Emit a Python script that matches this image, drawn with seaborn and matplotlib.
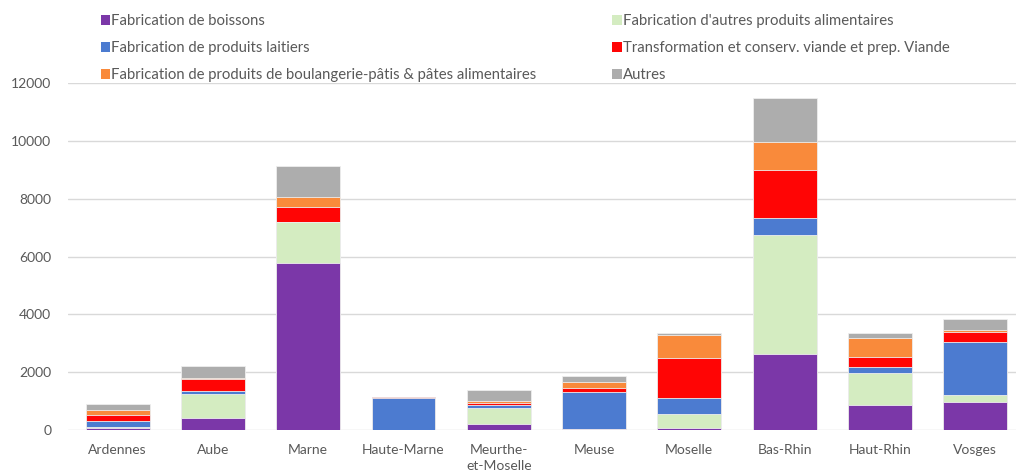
import numpy as np
import pandas as pd
import matplotlib
matplotlib.use("Agg")
import matplotlib.pyplot as plt
from matplotlib.patches import Patch
import seaborn as sns

# ---- données (effectifs par département et secteur) ----
DEPARTEMENTS = ["Ardennes", "Aube", "Marne", "Haute-Marne", "Meurthe-\net-Moselle",
                "Meuse", "Moselle", "Bas-Rhin", "Haut-Rhin", "Vosges"]

BOISSONS     = [60, 400, 5765, 0, 220, 30, 55, 2630, 865, 957]
AUTRES_ALIM  = [50, 853, 1425, 0, 540, 0, 495, 4100, 1095, 242]
LAITIERS     = [200, 80, 0, 1120, 90, 1280, 565, 610, 230, 1833]
VIANDE       = [210, 426, 520, 15, 70, 140, 1385, 1670, 346, 346]
BOULANGERIE  = [170, 35, 335, 5, 70, 195, 770, 935, 657, 92]
AUTRES       = [200, 403, 1085, 0, 400, 210, 90, 1535, 173, 357]

SERIES = [
    ("Fabrication de boissons", BOISSONS, "#7B37A8"),
    ("Fabrication d'autres produits alimentaires", AUTRES_ALIM, "#D4ECC1"),
    ("Fabrication de produits laitiers", LAITIERS, "#4C7BD0"),
    ("Transformation et conserv. viande et prep. Viande", VIANDE, "#FF0505"),
    ("Fabrication de produits de boulangerie-pâtis & pâtes alimentaires", BOULANGERIE, "#F98A3B"),
    ("Autres", AUTRES, "#ADADAD"),
]

TXT = "#595959"

sns.set_theme(style="white")
plt.rcParams["font.family"] = ["Lato", "DejaVu Sans"]

fig = plt.figure(figsize=(10.16, 4.72), dpi=100)
ax = fig.add_axes([0.067, 0.089, 0.935, 0.735])

# barres empilées : on trace les cumuls du haut vers le bas
cumul = np.cumsum([np.array(s[1]) for s in SERIES], axis=0)
for i in range(len(SERIES) - 1, -1, -1):
    df = pd.DataFrame({"dep": DEPARTEMENTS, "val": cumul[i]})
    sns.barplot(data=df, x="dep", y="val", color=SERIES[i][2], width=0.67,
                edgecolor="#EEEEEE", linewidth=0.6, ax=ax, saturation=1)

ax.set_ylim(0, 12000)
ax.set_xlim(-0.52, 9.45)
ax.set_yticks(np.arange(0, 12001, 2000))
ax.yaxis.grid(True, color="#D9D9D9", linewidth=1)
ax.set_axisbelow(True)
for s in ax.spines.values():
    s.set_visible(False)
ax.set_xlabel("")
ax.set_ylabel("")
ax.tick_params(axis="both", length=0, colors=TXT, labelsize=10)
ax.tick_params(axis="x", pad=10)
ax.tick_params(axis="y", pad=12)
for lab in ax.get_xticklabels():
    lab.set_verticalalignment("top")
    lab.set_linespacing(1.45)

# légende sur deux colonnes
order = [0, 2, 4, 1, 3, 5]
handles = [Patch(facecolor=SERIES[k][2], edgecolor="none") for k in order]
labels = [SERIES[k][0] for k in order]
leg = fig.legend(handles, labels, ncol=2, loc="upper left",
                 bbox_to_anchor=(0.086, 0.998), frameon=False,
                 fontsize=10.7, handlelength=0.62, handleheight=0.62,
                 handletextpad=0.1, labelspacing=0.88, columnspacing=5.1)
for t in leg.get_texts():
    t.set_color(TXT)

fig.savefig("out.png", dpi=100)
